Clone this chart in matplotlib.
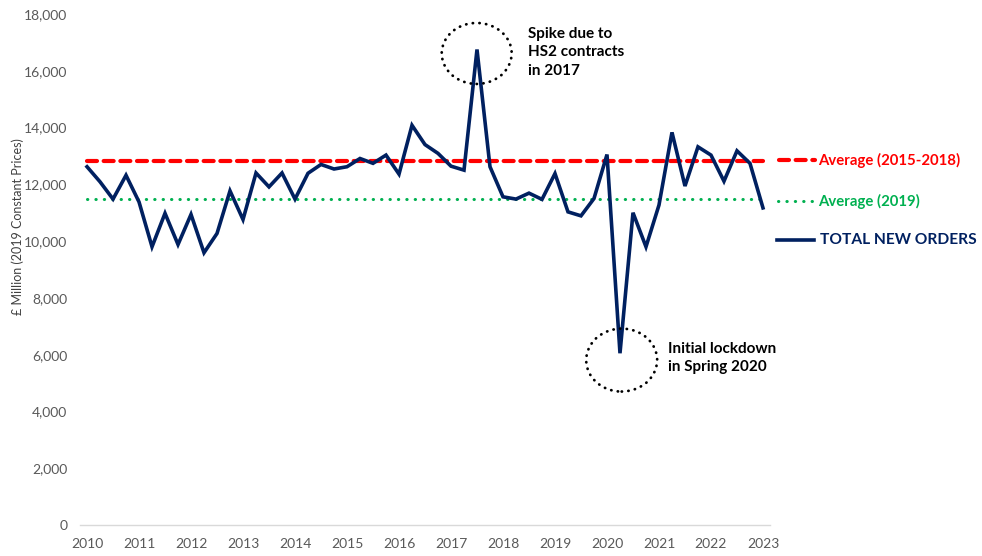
import matplotlib
matplotlib.use("Agg")
import matplotlib.pyplot as plt
from matplotlib.lines import Line2D
from matplotlib.patches import Ellipse
import numpy as np

plt.rcParams['font.family'] = ['Lato', 'DejaVu Sans']

# ---- data ----
start_year = 2010
total_new_orders = [12620, 12090, 11480, 12320, 11380, 9800, 10980, 9880, 10940, 9590,
                    10270, 11770, 10760, 12400, 11910, 12400, 11480, 12390, 12700, 12540,
                    12620, 12910, 12740, 13030, 12360, 14080, 13400, 13090, 12640, 12500,
                    16750, 12620, 11560, 11480, 11690, 11470, 12380, 11030, 10890, 11500,
                    13050, 6050, 11000, 9800, 11270, 13830, 11940, 13320, 13030, 12110,
                    13180, 12740, 11170]
avg_2015_2018 = 12820
avg_2019 = 11470
year_ticks = list(range(2010, 2024))
y_ticks = list(range(0, 18001, 2000))

x = start_year + np.arange(len(total_new_orders)) / 4.0

W, H = 982, 556
fig = plt.figure(figsize=(W / 100, H / 100), dpi=100)
ax = fig.add_axes([80 / W, 1 - 525 / H, 690 / W, 511 / H])

navy = '#002060'
red = '#FF0000'
green = '#00B050'
tick_col = '#595959'

ax.plot([x[0], x[-1]], [avg_2015_2018] * 2, color=red, lw=3.0,
        dashes=(2.4, 1.6), dash_capstyle='round', solid_capstyle='round')
ax.plot([x[0], x[-1]], [avg_2019] * 2, color=green, lw=2.2,
        dashes=(0.1, 2.65), dash_capstyle='round')
ax.plot(x, total_new_orders, color=navy, lw=2.6, solid_joinstyle='miter', zorder=3)

ax.set_xlim(2009.865, 2023.135)
ax.set_ylim(0, 18000)
ax.set_xticks(year_ticks)
ax.set_xticklabels([str(y) for y in year_ticks])
ax.set_yticks(y_ticks)
ax.set_yticklabels([f'{v:,}' for v in y_ticks])
ax.tick_params(axis='both', length=0, labelsize=10, colors=tick_col)
ax.tick_params(axis='x', pad=9)
ax.tick_params(axis='y', pad=9)
for s in ['top', 'right', 'left']:
    ax.spines[s].set_visible(False)
ax.spines['bottom'].set_color('#D9D9D9')
ax.spines['bottom'].set_linewidth(1.0)

fig.text(18 / W, 1 - 227 / H, '£ Million (2019 Constant Prices)', rotation=90,
         ha='center', va='center', fontsize=9, color='#404040')

# annotation ellipses
for (cx, cy, w, h) in [(2017.494, 16609, 1.346, 2148), (2020.283, 5810, 1.365, 2218)]:
    e = Ellipse((cx, cy), w, h, fill=False, edgecolor='black', lw=2.0,
                linestyle=(0, (0.1, 2.3)), zorder=4)
    e.set_capstyle('round')
    ax.add_patch(e)

ax.text(2018.475, 16654, 'Spike due to\nHS2 contracts\nin 2017', ha='left', va='center',
        fontsize=11, fontweight='bold', color='black', linespacing=1.42)
ax.text(2021.18, 5880, 'Initial lockdown\nin Spring 2020', ha='left', va='center',
        fontsize=11, fontweight='bold', color='black', linespacing=1.42)

# legend (manual, to the right of the plot)
def fx(px):
    return px / W

def fy(py):
    return 1 - py / H

fig.add_artist(Line2D([fx(779), fx(815)], [fy(160)] * 2, color=red, lw=3.0,
                      dashes=(2.4, 1.6), dash_capstyle='round', transform=fig.transFigure))
fig.text(fx(818), fy(160), 'Average (2015-2018)', color=red, fontsize=10.7,
         fontweight='bold', ha='left', va='center')
fig.add_artist(Line2D([fx(778), fx(815)], [fy(201)] * 2, color=green, lw=2.2,
                      dashes=(0.1, 2.65), dash_capstyle='round', transform=fig.transFigure))
fig.text(fx(818), fy(201), 'Average (2019)', color=green, fontsize=10.7,
         fontweight='bold', ha='left', va='center')
fig.add_artist(Line2D([fx(777), fx(814)], [fy(240)] * 2, color=navy, lw=2.6,
                      transform=fig.transFigure))
fig.text(fx(820), fy(240), 'TOTAL NEW ORDERS', color=navy, fontsize=11.2,
         fontweight='bold', ha='left', va='center')

fig.savefig('out.png', dpi=100)
